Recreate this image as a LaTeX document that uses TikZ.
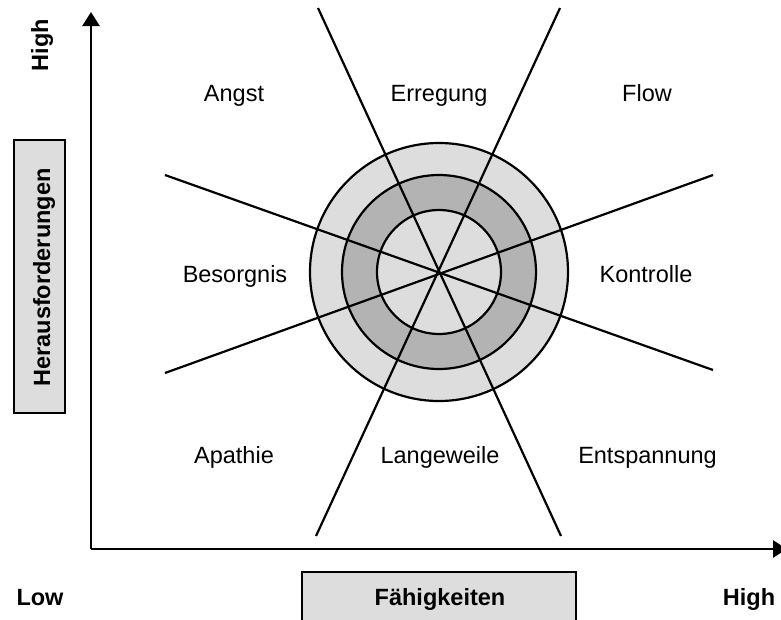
\documentclass[tikz,border=0pt]{standalone}
\usepackage{fontspec}
\setmainfont{Liberation Sans}
\usetikzlibrary{arrows.meta}
\definecolor{lightg}{HTML}{DDDDDD}
\definecolor{darkg}{HTML}{B3B3B3}
\begin{document}
\begin{tikzpicture}[x=1pt,y=-1pt,
  lbl/.style={font=\fontsize{23.5}{28}\selectfont, anchor=base, inner sep=0pt},
  blbl/.style={font=\fontsize{23.5}{28}\selectfont\bfseries, anchor=base, inner sep=0pt},
  axisline/.style={line width=2.6pt, -{Triangle[length=14pt,width=17pt]}},
  ray/.style={line width=2.2pt},
  ring/.style={line width=2.2pt},
  labelbox/.style={draw=black, line width=2.2pt, fill=lightg}]
\useasboundingbox (0,0) rectangle (781,619);
\clip (0,0) rectangle (781,619);
% circles
\coordinate (c) at (439,272);
\filldraw[ring, fill=lightg] (c) circle[radius=129];
\filldraw[ring, fill=darkg] (c) circle[radius=97];
\filldraw[ring, fill=lightg] (c) circle[radius=62];
% rays
\coordinate (a1) at (318,8);   \coordinate (b1) at (561,536);
\coordinate (a2) at (560,8);   \coordinate (b2) at (316,536);
\coordinate (a3) at (165,175); \coordinate (b3) at (713,370);
\coordinate (a4) at (165,373); \coordinate (b4) at (713,175);
\draw[ray] (a1) -- (b1);
\draw[ray] (a2) -- (b2);
\draw[ray] (a3) -- (b3);
\draw[ray] (a4) -- (b4);
% axes
\coordinate (o) at (91,549);
\coordinate (ytop) at (91,12);
\coordinate (xend) at (787,549);
\draw[axisline] (o) -- (ytop);
\draw[axisline] (o) -- (xend);
% region labels
\node[lbl] (angst) at (234,101.5) {Angst};
\node[lbl] (erregung) at (439,101.5) {Erregung};
\node[lbl] (flow) at (647,101.5) {Flow};
\node[lbl] (besorgnis) at (235,282) {Besorgnis};
\node[lbl] (kontrolle) at (646,282) {Kontrolle};
\node[lbl] (apathie) at (234,463) {Apathie};
\node[lbl] (langeweile) at (440,463) {Langeweile};
\node[lbl] (entspannung) at (647.5,463) {Entspannung};
% axis label boxes
\draw[labelbox] (14,140) rectangle (65,413);
\node[blbl, rotate=90] (herausf) at (50,277.5) {Herausforderungen};
\draw[labelbox] (302,572) rectangle (576,630);
\node[blbl] (faehig) at (440,605) {Fähigkeiten};
% low/high
\node[blbl, rotate=90] (yhigh) at (48,45) {High};
\node[blbl] (low) at (40,605) {Low};
\node[blbl] (xhigh) at (749,605) {High};
\end{tikzpicture}
\end{document}
